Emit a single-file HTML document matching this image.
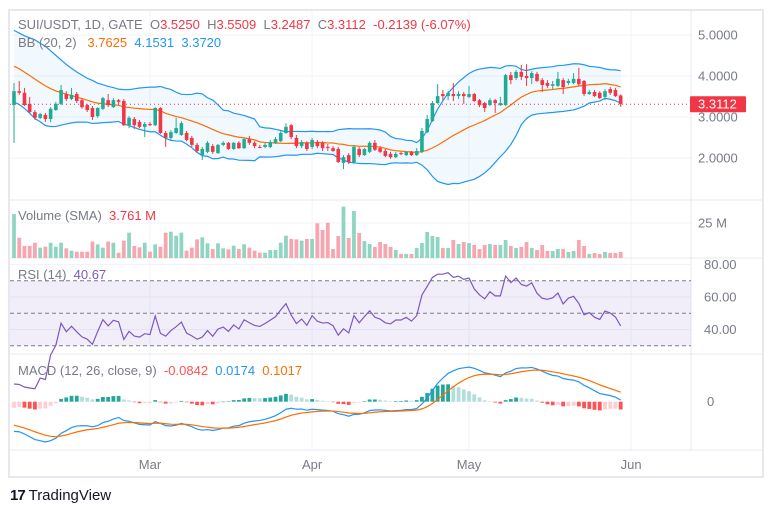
<!DOCTYPE html>
<html><head><meta charset="utf-8">
<style>
html,body{margin:0;padding:0;background:#fff;}
body{width:774px;height:513px;overflow:hidden;font-family:"Liberation Sans",sans-serif;}
svg{display:block;}
text{font-family:"Liberation Sans",sans-serif;}
</style></head>
<body>
<svg id="chart" width="774" height="513" xmlns="http://www.w3.org/2000/svg"></svg>
<script>
// ---------- DATA ----------
const historyClose=[4.85,4.9,4.8,4.75,4.7,4.6,4.55,4.45,4.4,4.3,4.2,4.1,4.0,3.95,3.85,3.8,3.7,3.65,3.6];
const open=[3.29,3.63,3.59,3.32,3.12,2.98,3.05,2.95,3.17,3.32,
3.56,3.44,3.56,3.41,3.29,3.22,3.02,3.20,3.41,3.24,
3.41,3.39,2.80,2.95,2.88,2.76,2.83,2.80,3.22,2.61,
2.49,2.61,2.56,2.61,2.49,2.32,2.07,2.15,2.29,2.12,
2.32,2.37,2.22,2.37,2.24,2.46,2.37,2.27,2.27,2.27,
2.37,2.41,2.61,2.80,2.49,2.29,2.37,2.27,2.39,2.37,
2.27,2.24,2.22,1.88,2.07,1.90,2.22,2.07,2.15,2.37,
2.24,2.17,2.10,2.02,2.12,2.07,2.15,2.07,2.15,2.63,
2.90,3.34,3.56,3.51,3.56,3.51,3.56,3.49,3.56,
3.41,3.34,3.29,3.41,3.29,3.29,4.02,3.95,4.10,4.00,3.95,
4.05,3.90,3.83,3.76,3.76,3.90,3.83,3.83,3.93,3.88,
3.56,3.61,3.59,3.49,3.68,3.66,3.525];
const high=[3.83,3.88,3.71,3.49,3.17,3.10,3.10,3.24,3.37,3.78,
3.63,3.71,3.61,3.46,3.32,3.27,3.24,3.49,3.56,3.46,
3.44,3.44,3.02,3.00,2.93,2.88,2.88,3.24,3.24,2.66,
2.68,2.98,2.90,2.66,2.54,2.37,2.27,2.41,2.34,2.34,
2.41,2.39,2.39,2.41,2.49,2.54,2.41,2.32,2.37,2.44,
2.51,2.66,2.85,2.83,2.56,2.44,2.41,2.49,2.44,2.41,
2.34,2.29,2.27,2.07,2.12,2.32,2.27,2.24,2.41,2.44,
2.29,2.22,2.15,2.15,2.15,2.17,2.17,2.24,2.73,3.05,
3.39,3.80,3.66,3.63,3.83,3.63,3.61,3.76,3.59,
3.44,3.37,3.46,3.44,3.49,4.05,4.10,4.15,4.27,4.29,4.12,
4.10,3.95,3.90,3.88,4.10,3.95,3.93,4.07,4.20,3.90,
3.66,3.66,3.63,3.68,3.73,3.71,3.5509];
const low=[2.37,3.54,3.27,3.10,2.93,2.95,2.88,2.88,3.15,3.29,
3.39,3.41,3.34,3.20,3.12,2.93,2.98,3.17,3.24,3.22,
3.32,2.78,2.73,2.71,2.73,2.51,2.78,2.78,2.59,2.27,
2.44,2.59,2.54,2.41,2.27,2.12,1.95,2.12,2.10,2.10,
2.29,2.20,2.20,2.22,2.22,2.32,2.24,2.24,2.24,2.24,
2.34,2.39,2.59,2.46,2.24,2.24,2.17,2.22,2.24,2.17,
2.17,2.15,1.88,1.73,1.85,1.85,2.02,2.05,2.12,2.17,
2.12,2.02,1.98,2.00,2.07,2.05,2.05,2.05,2.12,2.61,
2.88,3.32,3.41,3.41,3.39,3.44,3.32,3.46,3.37,
3.24,3.12,3.27,3.10,3.27,3.27,3.80,3.90,3.90,3.76,3.80,
3.85,3.61,3.71,3.68,3.73,3.56,3.78,3.80,3.76,3.51,
3.54,3.49,3.44,3.41,3.54,3.49,3.2487];
const close=[3.63,3.59,3.29,3.12,2.98,3.07,2.95,3.20,3.32,3.66,
3.44,3.54,3.39,3.24,3.17,3.00,3.22,3.46,3.29,3.41,
3.37,2.80,2.98,2.80,2.76,2.83,2.80,3.22,2.61,2.49,
2.63,2.73,2.85,2.44,2.32,2.17,2.22,2.37,2.15,2.32,
2.37,2.22,2.37,2.24,2.46,2.37,2.29,2.26,2.32,2.39,
2.46,2.61,2.76,2.51,2.29,2.39,2.22,2.44,2.29,2.24,
2.25,2.17,1.90,2.02,1.90,2.27,2.07,2.22,2.37,2.20,
2.15,2.05,2.02,2.10,2.10,2.15,2.07,2.17,2.66,2.95,
3.34,3.51,3.51,3.59,3.51,3.56,3.51,3.56,3.39,
3.29,3.22,3.41,3.34,3.34,4.02,3.90,4.10,3.98,3.95,4.07,
3.88,3.78,3.76,3.80,3.93,3.73,3.88,3.93,3.80,3.56,
3.61,3.51,3.46,3.63,3.59,3.51,3.3112];
const volume=[31.4,14.5,8.6,8.6,10.9,7.4,8.1,10.9,8.1,10.9,
6.9,5.2,4.5,4.5,4.5,11.7,9.8,7.4,11.7,10.9,
3.8,12.4,18.1,8.6,7.6,10.9,4.5,9.8,8.1,18.1,
18.8,15.9,18.1,5.2,7.4,13.3,14.8,10.5,6.4,10.5,
6.9,6.2,8.8,6.4,9.8,7.4,5.2,3.8,3.8,5.7,
5.7,10.9,15.9,13.6,13.3,12.4,13.6,13.6,24.8,
20.0,25.2,6.4,15.7,36.7,14.3,33.6,17.9,12.1,10.0,
7.9,11.4,10.0,7.9,5.7,2.9,2.9,2.9,7.1,10.7,
18.6,15.7,15.0,7.1,7.1,12.9,10.0,11.4,10.7,9.3,
6.4,9.3,10.0,9.3,9.3,12.9,8.6,7.1,7.9,11.4,
7.1,5.7,9.3,5.0,5.0,6.4,6.4,4.3,5.0,12.9,
8.6,2.9,3.6,2.9,4.3,3.6,3.6,4.3];
const priceTicks=[5,4,3,2];
const priceTickLabels=["5.0000","4.0000","3.0000","2.0000"];
const rsiTicks=[80,60,40];
const rsiTickLabels=["80.00","60.00","40.00"];
const rsiBands=[70,50,30];
const monthLabels=["Mar","Apr","May","Jun"];
const monthIndex=[26,57,87,118];

// ---------- LAYOUT / SCALES ----------
const svg=document.getElementById('chart');
const NS="http://www.w3.org/2000/svg";
const L=10, R=691;
const xOf=i=>14+i*5.23;
const yPrice=p=>240-p*41;
const yVol=v=>258-v*1.4;
const yRsi=v=>313.3-(v-50)*1.625;
const MZ=401.7;
function mk(tag,attrs,parent){const e=document.createElementNS(NS,tag);for(const k in attrs)e.setAttribute(k,attrs[k]);(parent||svg).appendChild(e);return e;}
function txt(x,y,s,fill,size,anchor,parent){const t=mk('text',{x:x,y:y,fill:fill,'font-size':size||13,'text-anchor':anchor||'start'},parent);t.textContent=s;return t;}
function pathFrom(vals,yf,start){let d='';vals.forEach((v,i)=>{if(v==null)return;d+=(d?'L':'M')+xOf(i).toFixed(2)+' '+yf(v).toFixed(2);});return d;}

// ---------- INDICATORS ----------
const all=historyClose.concat(close), H=historyClose.length;
const bbMid=[],bbUp=[],bbLo=[];
for(let i=0;i<close.length;i++){const j=i+H;const w=all.slice(j-19,j+1);const m=w.reduce((a,b)=>a+b,0)/w.length;const sd=Math.sqrt(w.reduce((a,b)=>a+(b-m)*(b-m),0)/w.length);bbMid.push(m);bbUp.push(m+2*sd);bbLo.push(m-2*sd);}
const rsiAll=[];let ag=0,al=0;
for(let j=1;j<all.length;j++){const ch=all[j]-all[j-1];const g=Math.max(ch,0),l=Math.max(-ch,0);if(j<=14){ag+=g/14;al+=l/14;}else{ag=(ag*13+g)/14;al=(al*13+l)/14;}rsiAll[j]=al===0?100:100-100/(1+ag/al);}
const rsi=close.map((c,i)=>rsiAll[i+H]);
function ema(arr,n){const k=2/(n+1);const o=[];arr.forEach((v,i)=>{o.push(i===0?v:v*k+o[i-1]*(1-k));});return o;}
const e12=ema(all,12),e26=ema(all,26);const macdAll=all.map((v,i)=>e12[i]-e26[i]);const sigAll=ema(macdAll,9);
const macd=close.map((c,i)=>macdAll[i+H]),signal=close.map((c,i)=>sigAll[i+H]),hist=macd.map((m,i)=>m-signal[i]);
const mMax=Math.max(...macd,...signal,...hist),mMin=Math.min(...macd,...signal,...hist);
const mScale=Math.min((MZ-362)/Math.max(mMax,0.001),(442-MZ)/Math.max(-mMin,0.001));
const yMacd=v=>MZ-v*mScale;

// ---------- FRAME & GRID ----------
mk('rect',{x:9,y:10,width:754,height:467,fill:'#fff',stroke:'#e6e8ee','stroke-width':2});
const grid=mk('g',{});


monthIndex.forEach(mi=>{mk('line',{x1:xOf(mi),x2:xOf(mi),y1:11,y2:450,stroke:'#f0f3fa'},grid);});
priceTicks.forEach(p=>{mk('line',{x1:L,x2:R,y1:yPrice(p),y2:yPrice(p),stroke:'#f0f3fa'},grid);});
mk('line',{x1:L,x2:R,y1:yVol(25),y2:yVol(25),stroke:'#f0f3fa'},grid);
rsiTicks.forEach(v=>{mk('line',{x1:L,x2:R,y1:yRsi(v),y2:yRsi(v),stroke:'#f0f3fa'},grid);});
[200,258,354,450].forEach(y=>mk('line',{x1:L,x2:763,y1:y,y2:y,stroke:'#e6e8ee'},grid));
mk('line',{x1:R,x2:R,y1:11,y2:450,stroke:'#e6e8ee'},grid);

// ---------- PRICE PANEL ----------
const bb=mk('g',{});


let fillD=pathFrom(bbUp,yPrice);for(let i=bbLo.length-1;i>=0;i--)fillD+='L'+xOf(i).toFixed(2)+' '+yPrice(bbLo[i]).toFixed(2);
mk('path',{d:fillD+'Z',fill:'rgba(33,150,243,0.06)',stroke:'none'},bb);
const up=mk('path',{d:pathFrom(bbUp,yPrice),fill:'none',stroke:'#2196f3','stroke-width':1.2},bb);


const lo=mk('path',{d:pathFrom(bbLo,yPrice),fill:'none',stroke:'#2196f3','stroke-width':1.2},bb);


const mid=mk('path',{d:pathFrom(bbMid,yPrice),fill:'none',stroke:'#ff6d00','stroke-width':1.2},bb);


const last=close[close.length-1];
const pl=mk('line',{x1:L,x2:R,y1:yPrice(last),y2:yPrice(last),stroke:'#f23645','stroke-dasharray':'1 3','stroke-width':1});


const candles=mk('g',{});


close.forEach((c,i)=>{const o=open[i];const col=c>=o?'#22ab94':'#f23645';const g=mk('g',{},candles);


mk('line',{x1:xOf(i),x2:xOf(i),y1:yPrice(high[i]),y2:yPrice(low[i]),stroke:col,'stroke-width':1},g);
const t=Math.min(yPrice(o),yPrice(c)),h=Math.max(Math.abs(yPrice(o)-yPrice(c)),1);
mk('rect',{x:xOf(i)-1.8,y:t,width:3.6,height:h,fill:col},g);});

// ---------- VOLUME ----------
const vg=mk('g',{});


volume.forEach((v,i)=>{const col=close[i]>=open[i]?'#8fd6c2':'#f7a5ae';const r=mk('rect',{x:xOf(i)-1.9,y:yVol(v),width:3.8,height:258-yVol(v),fill:col},vg);

});

// ---------- RSI ----------
const rg=mk('g',{});


mk('rect',{x:L,y:yRsi(70),width:R-L,height:yRsi(30)-yRsi(70),fill:'rgba(126,87,194,0.1)'},rg);
rsiBands.forEach(v=>mk('line',{x1:L,x2:R,y1:yRsi(v),y2:yRsi(v),stroke:'#787b86','stroke-dasharray':'4 3','stroke-width':1},rg));
const rl=mk('path',{d:pathFrom(rsi,yRsi),fill:'none',stroke:'#7e57c2','stroke-width':1.2},rg);



// ---------- MACD ----------
const mg=mk('g',{});


hist.forEach((h,i)=>{const prev=i>0?hist[i-1]:h;let col;if(h>=0)col=h>=prev?'#26a69a':'#b2dfdb';else col=h<prev?'#ff5252':'#ffcdd2';
const t=Math.min(MZ,yMacd(h));const r=mk('rect',{x:xOf(i)-1.9,y:t,width:3.8,height:Math.max(Math.abs(yMacd(h)-MZ),0.5),fill:col},mg);

});
const ml=mk('path',{d:pathFrom(macd,yMacd),fill:'none',stroke:'#2196f3','stroke-width':1.2},mg);


const sl=mk('path',{d:pathFrom(signal,yMacd),fill:'none',stroke:'#ff6d00','stroke-width':1.2},mg);



// ---------- AXES ----------
const ax=mk('g',{});


priceTicks.forEach((p,i)=>txt(698,yPrice(p)+4.5,priceTickLabels[i],'#787b86',13,'start',ax));
const tag=mk('rect',{x:690,y:yPrice(last)-8,width:56,height:16,fill:'#f23645',rx:1});


txt(698,yPrice(last)+4.5,last.toFixed(4),'#fff',13);
const vt=txt(698,yVol(25)+4.5,'25 M','#787b86',13);


rsiTicks.forEach((v,i)=>{const t=txt(704,yRsi(v)+4.5,rsiTickLabels[i],'#787b86',13);

});
const z=txt(707,MZ+4.5,'0','#787b86',13);


monthLabels.forEach((m,i)=>{const t=txt(xOf(monthIndex[i]),469,m,'#787b86',13,'middle');

});
</script>
<div style="position:absolute;left:18px;top:17px;font-size:13px;color:#787b86;white-space:nowrap;line-height:16px;">
<span>SUI/USDT, 1D, GATE</span>&nbsp;&nbsp;O<span style="color:#f23645">3.5250</span>&nbsp;&nbsp;H<span style="color:#f23645">3.5509</span>&nbsp;&nbsp;L<span style="color:#f23645">3.2487</span>&nbsp;&nbsp;C<span style="color:#f23645">3.3112</span>&nbsp;&nbsp;<span style="color:#f23645">-0.2139 (-6.07%)</span>
</div>
<div style="position:absolute;left:18px;top:35px;font-size:13px;color:#787b86;white-space:nowrap;line-height:16px;">BB (20, 2)&nbsp;&nbsp;&nbsp;<span style="color:#ff6d00">3.7625</span>&nbsp;&nbsp;<span style="color:#2196f3">4.1531</span>&nbsp;&nbsp;<span style="color:#2196f3">3.3720</span></div>
<div style="position:absolute;left:18px;top:208px;font-size:13px;color:#787b86;white-space:nowrap;line-height:16px;">Volume (SMA)&nbsp;&nbsp;<span style="color:#f23645">3.761 M</span></div>
<div style="position:absolute;left:18px;top:267px;font-size:13px;color:#787b86;white-space:nowrap;line-height:16px;">RSI (14)&nbsp;&nbsp;<span style="color:#7e57c2">40.67</span></div>
<div style="position:absolute;left:18px;top:363px;font-size:13px;color:#787b86;white-space:nowrap;line-height:16px;">MACD (12, 26, close, 9)&nbsp;&nbsp;<span style="color:#ff5252">-0.0842</span>&nbsp;&nbsp;<span style="color:#2196f3">0.0174</span>&nbsp;&nbsp;<span style="color:#ff6d00">0.1017</span></div>
<div style="position:absolute;left:10px;top:487px;font-size:15px;color:#131722;white-space:nowrap;line-height:18px;"><b style="font-size:15px;letter-spacing:-1px">17</b> TradingView</div>
</body></html>
